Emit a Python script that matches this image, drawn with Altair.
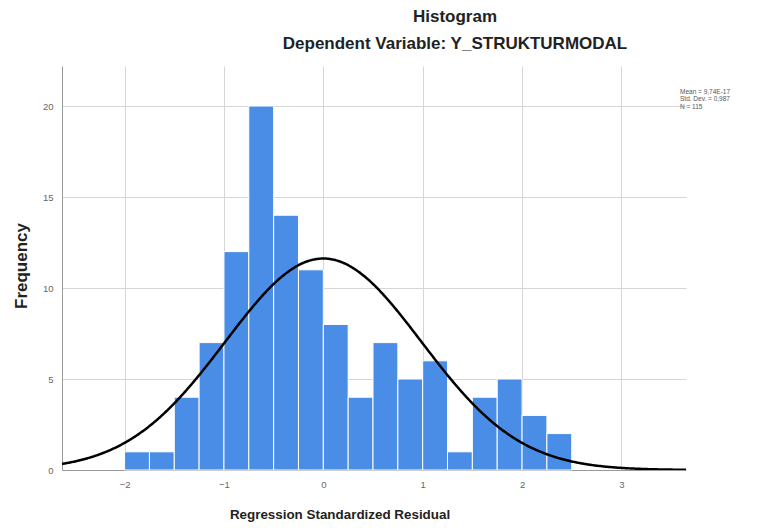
import altair as alt
import pandas as pd

# Histogram data (bin width 0.25)
bin_starts = [-2.0, -1.75, -1.5, -1.25, -1.0, -0.75, -0.5, -0.25, 0.0, 0.25,
              0.5, 0.75, 1.0, 1.25, 1.5, 1.75, 2.0, 2.25]
counts = [1, 1, 4, 7, 12, 20, 14, 11, 8, 4, 7, 5, 6, 1, 4, 5, 3, 2]
bin_width = 0.25
mean_val = 9.74e-17
sd_val = 0.987
n_val = 115
x_ticks = [-2, -1, 0, 1, 2, 3]
y_ticks = [0, 5, 10, 15, 20]
x_domain = [-2.63, 3.65]
y_domain = [0, 22.2]
legend_lines = ["Mean = 9,74E-17", "Std. Dev. = 0,987", "N = 115"]
title_lines = ["Histogram", "Dependent Variable: Y_STRUKTURMODAL"]
x_title = "Regression Standardized Residual"
y_title = "Frequency"

bars_df = pd.DataFrame({
    "x0": bin_starts,
    "x1": [b + bin_width for b in bin_starts],
    "count": counts,
})

W, H = 624, 404
FONT = "Liberation Sans"

xscale = alt.Scale(domain=x_domain, nice=False, zero=False)
yscale = alt.Scale(domain=y_domain, nice=False)

xaxis = alt.Axis(values=x_ticks, title=None, grid=True,
                 gridColor="#d6d6d6", domainColor="#999999", ticks=False,
                 labelColor="#666666", labelFontSize=9.5, labelFont=FONT, labelPadding=9,
                 format="d")
yaxis = alt.Axis(values=y_ticks, title=None, grid=True, gridColor="#d6d6d6",
                 domainColor="#999999", ticks=False, labelColor="#666666",
                 labelFontSize=9.5, labelFont=FONT, labelPadding=9, format="d")

bars = alt.Chart(bars_df).mark_rect(color="#4a8de6", stroke="white", strokeWidth=1).encode(
    x=alt.X("x0:Q", scale=xscale, axis=xaxis),
    x2="x1:Q",
    y=alt.Y("count:Q", scale=yscale, axis=yaxis),
    y2=alt.datum(0),
)

curve = alt.Chart(alt.sequence(x_domain[0], x_domain[1] + 0.01, 0.01, as_="x")).transform_calculate(
    dens=f"{n_val}*{bin_width}*exp(-0.5*pow((datum.x-({mean_val}))/{sd_val},2))/({sd_val}*sqrt(2*PI))"
).mark_line(color="black", strokeWidth=2.5, clip=True).encode(
    x=alt.X("x:Q", scale=xscale),
    y=alt.Y("dens:Q", scale=yscale),
)

titles_df = pd.DataFrame({"t": title_lines, "yy": [-44, -17]})
titles = alt.Chart(titles_df).mark_text(font=FONT, fontSize=17, fontWeight="bold",
                                        color="#222222", align="center",
                                        baseline="alphabetic").encode(
    x=alt.value(455 - 62),
    y=alt.Y("yy:Q", scale=None),
    text="t:N",
)

xt_df = pd.DataFrame({"t": [x_title]})
xtitle = alt.Chart(xt_df).mark_text(font=FONT, fontSize=13.4, fontWeight="bold",
                                    color="#222222", align="center",
                                    baseline="alphabetic").encode(
    x=alt.value(340 - 62),
    y=alt.value(519 - 66),
    text="t:N",
)

yt_df = pd.DataFrame({"t": [y_title]})
ytitle = alt.Chart(yt_df).mark_text(font=FONT, fontSize=17, fontWeight="bold",
                                    color="#222222", align="center", angle=270,
                                    baseline="alphabetic").encode(
    x=alt.value(27 - 62),
    y=alt.value(266 - 66),
    text="t:N",
)

legend_df = pd.DataFrame({"t": legend_lines, "yy": [26, 33, 41]})
legend = alt.Chart(legend_df).mark_text(font=FONT, fontSize=6.5, color="#555555",
                                        align="left", baseline="middle").encode(
    x=alt.value(680 - 62),
    y=alt.Y("yy:Q", scale=None),
    text="t:N",
)

chart = alt.layer(bars, curve, titles, xtitle, ytitle, legend).properties(
    width=W, height=H,
    autosize=alt.AutoSizeParams(type="none"),
    padding={"left": 54, "top": 58, "right": 89, "bottom": 62},
    background="white",
).configure_view(strokeWidth=0)

chart.save("out.html", embed_options={"renderer": "svg", "actions": False})
